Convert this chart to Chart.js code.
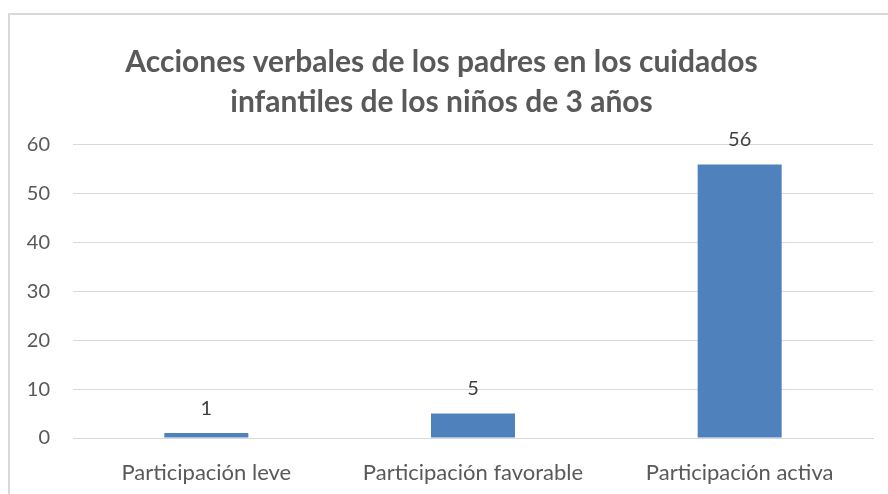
<!DOCTYPE html>
<html>
<head>
<meta charset="utf-8">
<script src="https://cdn.jsdelivr.net/npm/chart.js@4"></script>
<style>
    html, body { margin: 0; padding: 0; background: #ffffff; overflow: hidden; }
    #frame {
        position: absolute; left: 8px; top: 13px;
        width: 878px; height: 479px;
        border-left: 2px solid #d9d9d9; border-top: 2px solid #d9d9d9;
    }
</style>
</head>
<body>
<div id="frame"><canvas id="chart" width="878" height="479"></canvas></div>
<script>
const categories = ['Participación leve', 'Participación favorable', 'Participación activa'];
const counts = [1, 5, 56];
const title_lines = ['Acciones verbales de los padres en los cuidados', 'infantiles de los niños de 3 años'];

const text_color = '#595959';
const bar_color = '#4f81bd';
const grid_color = '#d9d9d9';
const font_family = 'Lato, "Open Sans", sans-serif';

// writes the value above every bar, like the data labels of the original
const value_labels = {
    id: 'value_labels',
    afterDatasetsDraw(chart) {
        const ctx = chart.ctx;
        const meta = chart.getDatasetMeta(0);
        ctx.save();
        ctx.fillStyle = '#404040';
        ctx.font = '20px ' + font_family;
        ctx.textAlign = 'center';
        ctx.textBaseline = 'bottom';
        meta.data.forEach((bar, i) => {
            ctx.fillText(String(counts[i]), bar.x, bar.y - 15);
        });
        ctx.restore();
    }
};

new Chart(document.getElementById('chart'), {
    type: 'bar',
    data: {
        labels: categories,
        datasets: [{
            data: counts,
            backgroundColor: bar_color,
            barPercentage: 0.315,
            categoryPercentage: 1,
        }]
    },
    options: {
        responsive: false,
        animation: false,
        layout: { padding: { left: 0, right: 15, top: 0, bottom: 0 } },
        plugins: {
            legend: { display: false },
            tooltip: { enabled: false },
            title: {
                display: true,
                text: title_lines,
                color: text_color,
                font: { family: font_family, size: 30, weight: 'bold', lineHeight: 1.333 },
                padding: { top: 27, bottom: 23 },
            },
        },
        scales: {
            x: {
                grid: { display: false, drawTicks: false },
                border: { display: true, color: grid_color, width: 1 },
                ticks: { color: text_color, font: { family: font_family, size: 22 }, padding: 22 },
                afterFit(scale) { scale.height = 56; },
            },
            y: {
                min: 0,
                max: 60,
                ticks: { stepSize: 10, color: text_color, font: { family: font_family, size: 20 }, padding: 23 },
                grid: { color: grid_color, drawTicks: false },
                border: { display: false },
                afterFit(scale) { scale.width = 63; },
            },
        },
    },
    plugins: [value_labels],
});
</script>
</body>
</html>
